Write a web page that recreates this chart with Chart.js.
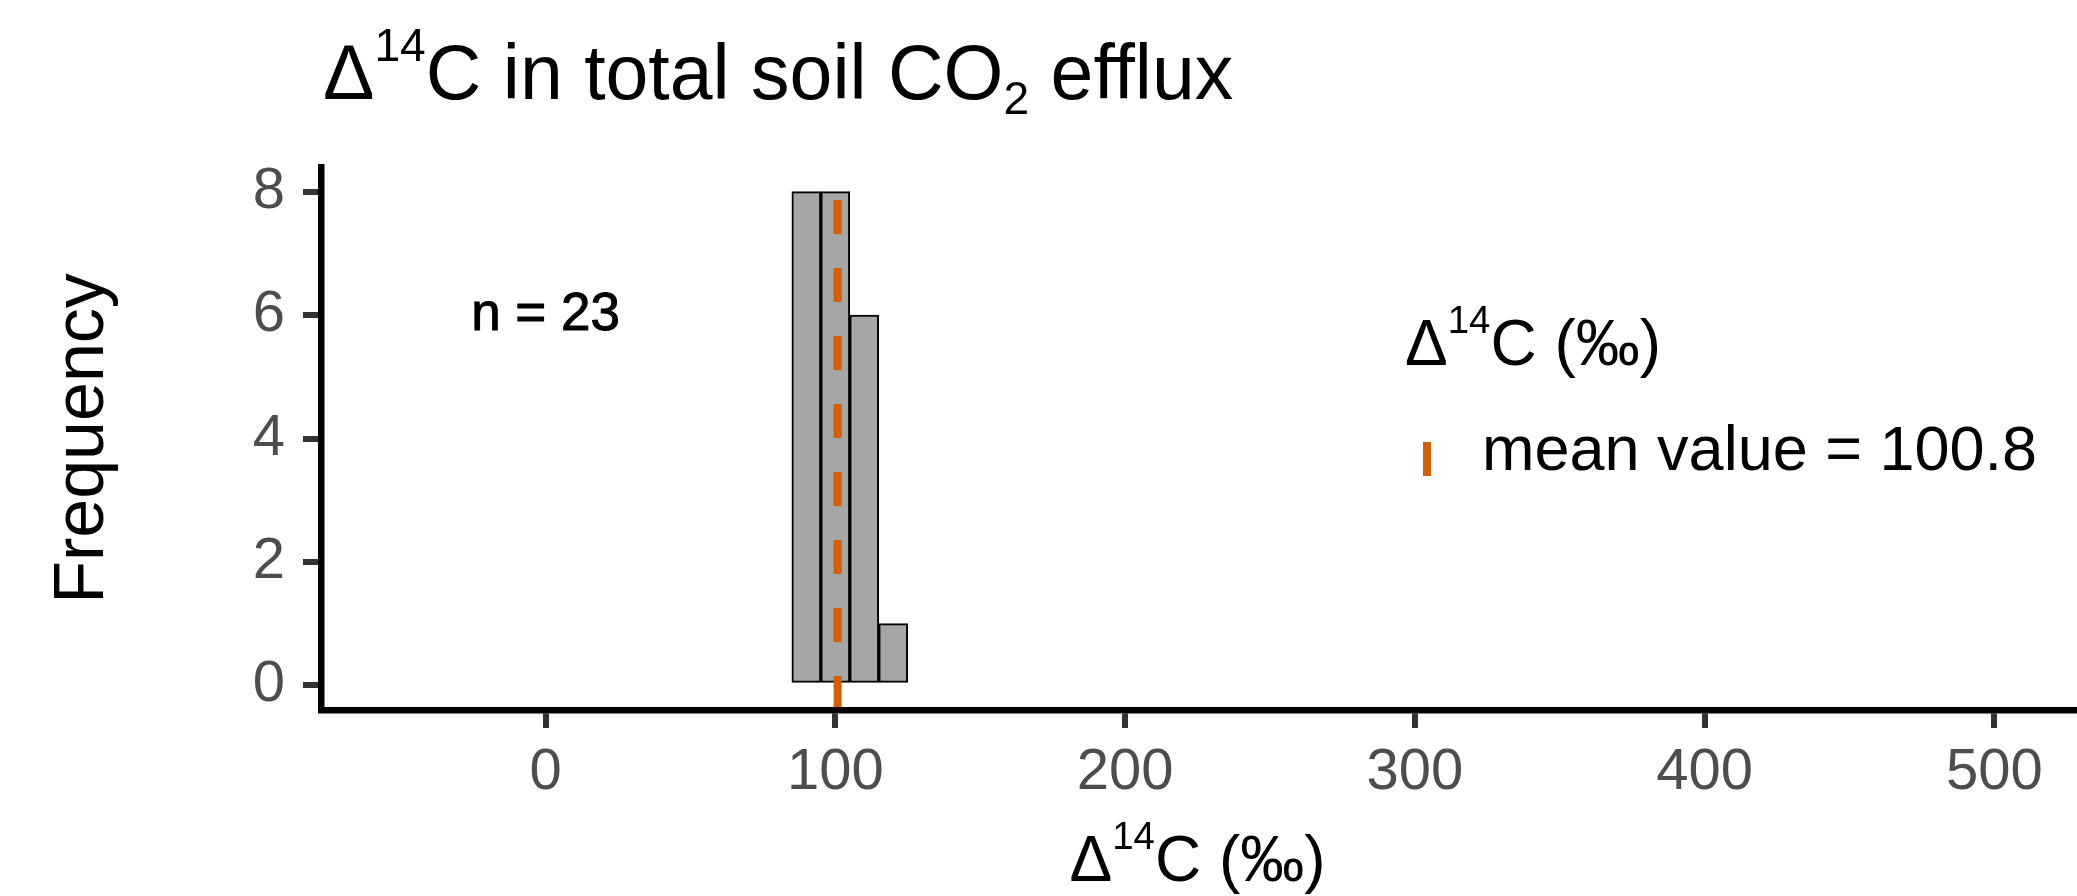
<!DOCTYPE html>
<html>
<head>
<meta charset="utf-8">
<script src="https://cdn.jsdelivr.net/npm/chart.js@4/dist/chart.umd.min.js"></script>
<style>
  html, body { margin: 0; padding: 0; background: #ffffff; }
  #wrap { width: 2077px; height: 896px; }
</style>
</head>
<body>
<div id="wrap"><canvas id="chart" width="2077" height="896"></canvas></div>
<script>
// histogram bins (centre of each 10 permil bin) and counts
const binCenters = [90, 100, 110, 120];
const binCounts = [8, 8, 6, 1];
const meanValue = [100.8];
const sampleLabel = ["n = 23"];

// axis ticks
const xTickValues = [0, 100, 200, 300, 400, 500];
const yTickValues = [0, 2, 4, 6, 8];

const FONT = '"Liberation Sans", Arial, Helvetica, sans-serif';
const ORANGE = "#D55E00";
const X_MIN = -77.5, X_MAX = 527.5;
const Y_MIN = -0.4, Y_MAX = 8.4;
const SCRIPT = 0.6;

// text with super/subscript pieces
function drawRich(ctx, parts, x, y, size, align) {
  let total = 0;
  parts.forEach((p) => {
    const s = p.sup || p.sub ? size * SCRIPT : size;
    ctx.font = `${s}px ${FONT}`;
    p.w = ctx.measureText(p.t).width;
    total += p.w;
  });
  let cx = align === "center" ? x - total / 2 : x;
  ctx.textAlign = "left";
  ctx.textBaseline = "alphabetic";
  parts.forEach((p) => {
    const s = p.sup || p.sub ? size * SCRIPT : size;
    ctx.font = `${s}px ${FONT}`;
    let dy = 0;
    if (p.sup) dy = -size * 0.5;
    if (p.sub) dy = size * 0.19;
    ctx.fillText(p.t, cx, y + dy);
    cx += p.w;
  });
}

const d14c = () => [{ t: "\u0394" }, { t: "14", sup: true }, { t: "C (\u2030)" }];

const annotations = {
  id: "annotations",
  afterDraw(chart) {
    const { ctx, chartArea, scales } = chart;
    ctx.save();
    ctx.fillStyle = "#000000";

    // plot title
    drawRich(ctx, [
      { t: "\u0394" }, { t: "14", sup: true }, { t: "C in total soil CO" },
      { t: "2", sub: true }, { t: " efflux" },
    ], 323, 99, 77, "left");

    // x axis title
    drawRich(ctx, d14c(), (chartArea.left + chartArea.right) / 2, 881, 64, "center");

    // y axis title
    ctx.save();
    ctx.translate(103, (chartArea.top + chartArea.bottom) / 2);
    ctx.rotate(-Math.PI / 2);
    ctx.font = `70px ${FONT}`;
    ctx.textAlign = "center";
    ctx.textBaseline = "alphabetic";
    ctx.fillText("Frequency", 0, 0);
    ctx.restore();

    // sample size label
    ctx.font = `53px ${FONT}`;
    ctx.textAlign = "center";
    ctx.textBaseline = "middle";
    ctx.lineWidth = 1;
    ctx.strokeStyle = "#000000";
    const nx = scales.x.getPixelForValue(0);
    const ny = scales.y.getPixelForValue(6);
    ctx.fillText(sampleLabel[0], nx, ny);
    ctx.strokeText(sampleLabel[0], nx, ny);

    // legend
    drawRich(ctx, d14c(), 1405, 365, 64, "left");
    ctx.strokeStyle = ORANGE;
    ctx.lineWidth = 8;
    ctx.beginPath();
    ctx.moveTo(1427, 442);
    ctx.lineTo(1427, 476);
    ctx.stroke();
    ctx.fillStyle = "#000000";
    ctx.font = `63px ${FONT}`;
    ctx.textAlign = "left";
    ctx.textBaseline = "alphabetic";
    ctx.fillText(`mean value = ${meanValue[0]}`, 1482, 470);

    ctx.restore();
  },
};

const gridOpts = {
  offset: false,
  drawOnChartArea: false,
  drawTicks: true,
  tickLength: 18,
  tickWidth: 6,
  tickColor: "#333333",
  lineWidth: 6,
};
const borderOpts = { display: true, color: "#000000", width: 6.5, z: 1 };

new Chart(document.getElementById("chart"), {
  data: {
    datasets: [
      {
        type: "line",
        label: "mean",
        data: [{ x: meanValue[0], y: Y_MIN }, { x: meanValue[0], y: Y_MAX }],
        borderColor: ORANGE,
        borderWidth: 8,
        borderDash: [34, 34],
        pointRadius: 0,
        order: 0,
      },
      {
        type: "bar",
        label: "count",
        data: binCenters.map((c, i) => ({ x: c, y: binCounts[i] })),
        backgroundColor: "#A6A6A6",
        borderColor: "#000000",
        borderWidth: 2,
        borderSkipped: false,
        barPercentage: 1,
        categoryPercentage: 1,
        order: 1,
      },
    ],
  },
  options: {
    responsive: false,
    animation: false,
    devicePixelRatio: 1,
    layout: { padding: { top: 167, right: 3, left: 0, bottom: 0 } },
    plugins: {
      legend: { display: false },
      title: { display: false },
      tooltip: { enabled: false },
    },
    scales: {
      x: {
        type: "linear",
        min: X_MIN,
        max: X_MAX,
        offset: false,
        grid: gridOpts,
        border: borderOpts,
        ticks: {
          color: "#4D4D4D",
          font: { family: FONT, size: 58 },
          padding: 10,
          maxRotation: 0,
        },
        afterBuildTicks: (scale) => {
          scale.ticks = xTickValues.map((v) => ({ value: v }));
        },
        afterFit: (scale) => {
          scale.height = 186;
        },
      },
      y: {
        type: "linear",
        min: Y_MIN,
        max: Y_MAX,
        grid: gridOpts,
        border: borderOpts,
        ticks: {
          color: "#4D4D4D",
          font: { family: FONT, size: 58 },
          padding: 18,
        },
        afterBuildTicks: (scale) => {
          scale.ticks = yTickValues.map((v) => ({ value: v }));
        },
        afterFit: (scale) => {
          scale.width = 321;
        },
      },
    },
  },
  plugins: [annotations],
});
</script>
</body>
</html>
